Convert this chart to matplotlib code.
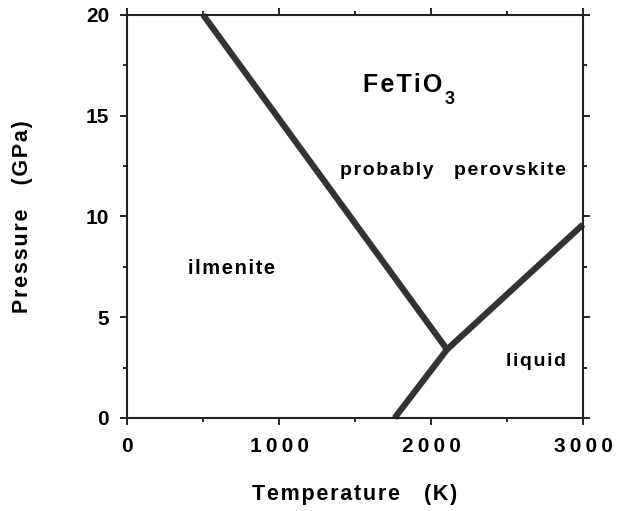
import matplotlib.pyplot as plt
from matplotlib.ticker import MultipleLocator

plt.rcParams["font.family"] = ["Liberation Sans", "DejaVu Sans"]
plt.rcParams["font.weight"] = "bold"

# phase boundaries (temperature K, pressure GPa)
ilm_pv_T = [500, 2105]
ilm_pv_P = [20, 3.4]
melt_low_T = [1760, 2105]
melt_low_P = [0, 3.4]
melt_high_T = [2105, 3000]
melt_high_P = [3.4, 9.6]

xticks = [0, 1000, 2000, 3000]
yticks = [0, 5, 10, 15, 20]


def spaced(s, sep="\u200a"):
    # the original lettering is tracked out a bit
    return sep.join(s)


fig = plt.figure(figsize=(6.17, 5.11), dpi=100)
ax = fig.add_axes([0.206, 0.182, 0.739, 0.789])

line_kw = dict(color="#333333", linewidth=4.5, solid_capstyle="butt", clip_on=False)
ax.plot(ilm_pv_T, ilm_pv_P, **line_kw)
ax.plot(melt_low_T, melt_low_P, **line_kw)
ax.plot(melt_high_T, melt_high_P, **line_kw)

ax.set_xlim(0, 3000)
ax.set_ylim(0, 20)
ax.set_xticks(xticks)
ax.set_yticks(yticks)
ax.set_xticklabels([spaced(str(t), "\u2009") for t in xticks])
ax.set_yticklabels([str(t) for t in yticks])
ax.xaxis.set_minor_locator(MultipleLocator(500))
ax.yaxis.set_minor_locator(MultipleLocator(2.5))
ax.tick_params(which="both", top=True, right=True, direction="out", width=1.2)
ax.tick_params(which="major", length=5, labelsize=15)
ax.tick_params(axis="x", which="major", pad=9)
ax.tick_params(axis="y", which="major", pad=8)
ax.tick_params(which="minor", length=3)
for lab in ax.get_xticklabels() + ax.get_yticklabels():
    lab.set_fontweight("bold")
for s in ax.spines.values():
    s.set_linewidth(1.5)
    s.set_color("#222222")

ax.set_xlabel(spaced("Temperature") + "    " + spaced("(K)"),
              fontsize=15.5, fontweight="bold", labelpad=20)
ax.set_ylabel(spaced("Pressure") + "    " + spaced("(GPa)"),
              fontsize=15.5, fontweight="bold", labelpad=38)

ax.text(2072, 16.5, spaced("FeTiO"), fontsize=18, fontweight="bold",
        ha="right", va="center")
ax.text(2090, 15.8, "3", fontsize=13, fontweight="bold", ha="left", va="center")
ax.text(1710, 12.3, spaced("probably"), fontsize=14, fontweight="bold",
        ha="center", va="center")
ax.text(2520, 12.3, spaced("perovskite"), fontsize=14, fontweight="bold",
        ha="center", va="center")
ax.text(690, 7.4, spaced("ilmenite"), fontsize=14.5, fontweight="bold",
        ha="center", va="center")
ax.text(2690, 2.8, spaced("liquid"), fontsize=14, fontweight="bold",
        ha="center", va="center")

fig.savefig("out.png", dpi=100)
